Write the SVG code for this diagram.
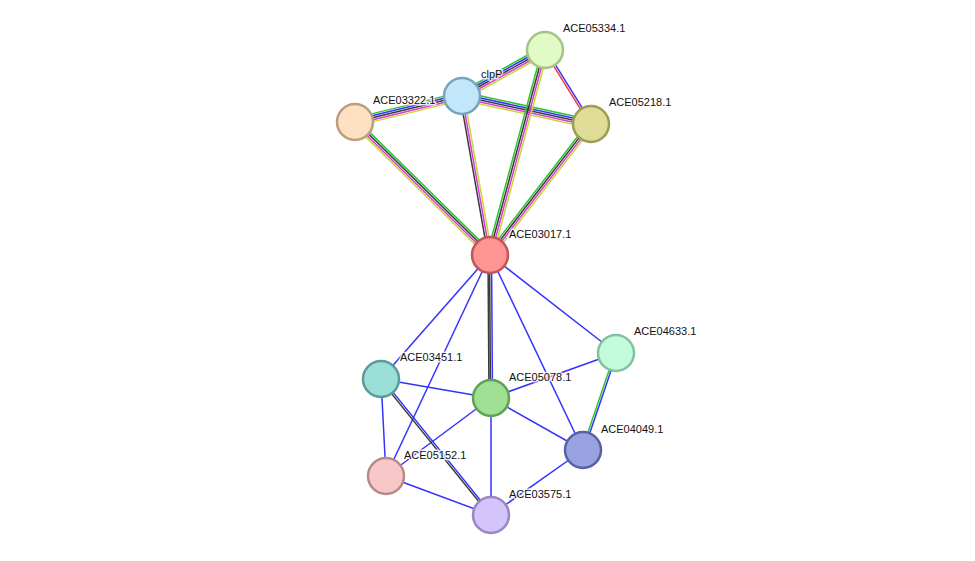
<svg xmlns="http://www.w3.org/2000/svg" width="975" height="561" viewBox="0 0 975 561">
<style>
.e{stroke-width:1.5;fill:none}
.g{stroke:#2fc52f}.b{stroke:#3333ff}.k{stroke:#3a3a3a}.m{stroke:#d63cd6}.y{stroke:#c5d63a}.r{stroke:#ff3333}
.n{stroke-width:2.5}
.t{font-family:"Liberation Sans",Arial,sans-serif;font-size:11px;fill:#111;stroke:#fff;stroke-width:3;stroke-opacity:0.8;paint-order:stroke;stroke-linejoin:round}
</style>
<rect width="975" height="561" fill="#fff"/>
<g id="connectors" class="e">
<!-- clpP - ACE05334 -->
<line class="g" x1="460.06" y1="92.5" x2="543.06" y2="46.5"/>
<line class="b" x1="461.03" y1="94.25" x2="544.03" y2="48.25"/>
<line class="k" x1="462" y1="96" x2="545" y2="50"/>
<line class="m" x1="462.97" y1="97.75" x2="545.97" y2="51.75"/>
<line class="y" x1="463.94" y1="99.5" x2="546.94" y2="53.5"/>
<!-- clpP - ACE03322 -->
<line class="g" x1="461.06" y1="92.11" x2="354.06" y2="118.11"/>
<line class="b" x1="461.53" y1="94.06" x2="354.53" y2="120.06"/>
<line class="k" x1="462" y1="96" x2="355" y2="122"/>
<line class="m" x1="462.47" y1="97.94" x2="355.47" y2="123.94"/>
<line class="y" x1="462.94" y1="99.89" x2="355.94" y2="125.89"/>
<!-- clpP - ACE05218 -->
<line class="g" x1="462.85" y1="92.09" x2="591.85" y2="120.09"/>
<line class="b" x1="462.42" y1="94.05" x2="591.42" y2="122.05"/>
<line class="k" x1="462" y1="96" x2="591" y2="124"/>
<line class="m" x1="461.58" y1="97.95" x2="590.58" y2="125.95"/>
<line class="y" x1="461.15" y1="99.91" x2="590.15" y2="127.91"/>
<!-- clpP - ACE03017 -->
<line class="k" x1="460.03" y1="96.35" x2="488.03" y2="255.35"/>
<line class="m" x1="462" y1="96" x2="490" y2="255"/>
<line class="y" x1="463.97" y1="95.65" x2="491.97" y2="254.65"/>
<!-- ACE05334 - ACE05218 -->
<line class="r" x1="544.15" y1="50.53" x2="590.15" y2="124.53"/>
<line class="b" x1="545.85" y1="49.47" x2="591.85" y2="123.47"/>
<!-- ACE05334 - ACE03017 -->
<line class="g" x1="542.1" y1="49.22" x2="487.1" y2="254.22"/>
<line class="k" x1="544.03" y1="49.74" x2="489.03" y2="254.74"/>
<line class="m" x1="545.97" y1="50.26" x2="490.97" y2="255.26"/>
<line class="y" x1="547.9" y1="50.78" x2="492.9" y2="255.78"/>
<!-- ACE05218 - ACE03017 -->
<line class="g" x1="588.62" y1="122.17" x2="487.62" y2="253.17"/>
<line class="k" x1="590.21" y1="123.39" x2="489.21" y2="254.39"/>
<line class="m" x1="591.79" y1="124.61" x2="490.79" y2="255.61"/>
<line class="y" x1="593.38" y1="125.83" x2="492.38" y2="256.83"/>
<!-- ACE03322 - ACE03017 -->
<line class="y" x1="352.9" y1="124.14" x2="487.9" y2="257.14"/>
<line class="m" x1="354.3" y1="122.71" x2="489.3" y2="255.71"/>
<line class="k" x1="355.7" y1="121.29" x2="490.7" y2="254.29"/>
<line class="g" x1="357.1" y1="119.86" x2="492.1" y2="252.86"/>
<!-- ACE03017 - ACE05078 -->
<line class="k" x1="488" y1="255" x2="489" y2="398"/>
<line class="k" x1="489.5" y1="255" x2="490.5" y2="398"/>
<line class="b" x1="491.5" y1="255" x2="492.5" y2="398"/>
<!-- single blue edges -->
<line class="b" x1="490" y1="255" x2="381" y2="379"/>
<line class="b" x1="490" y1="255" x2="386" y2="476"/>
<line class="b" x1="490" y1="255" x2="583" y2="450"/>
<line class="b" x1="490" y1="255" x2="616" y2="353"/>
<line class="b" x1="381" y1="379" x2="491" y2="398"/>
<line class="b" x1="381" y1="379" x2="386" y2="476"/>
<line class="b" x1="491" y1="398" x2="386" y2="476"/>
<line class="b" x1="491" y1="398" x2="491" y2="515"/>
<line class="b" x1="491" y1="398" x2="583" y2="450"/>
<line class="b" x1="491" y1="398" x2="616" y2="353"/>
<line class="b" x1="583" y1="450" x2="491" y2="515"/>
<line class="b" x1="386" y1="476" x2="491" y2="515"/>
<!-- ACE03451 - ACE03575 -->
<line class="k" x1="380.22" y1="379.63" x2="490.22" y2="515.63"/>
<line class="b" x1="381.78" y1="378.37" x2="491.78" y2="514.37"/>
<!-- ACE04633 - ACE04049 -->
<line class="g" x1="615.05" y1="352.68" x2="582.05" y2="449.68"/>
<line class="b" x1="616.95" y1="353.32" x2="583.95" y2="450.32"/>
</g>
<g id="ACE05334.1"><circle class="n" cx="545" cy="50" r="18" fill="#e0fcc4" stroke="#a6c486"/><text class="t" x="563" y="32">ACE05334.1</text></g>
<g id="clpP"><circle class="n" cx="462" cy="96" r="18" fill="#c2e6fa" stroke="#7aa4bc"/><text class="t" x="481" y="78">clpP</text></g>
<g id="ACE03322.1"><circle class="n" cx="355" cy="122" r="18" fill="#fee0c2" stroke="#bc9e7e"/><text class="t" x="373" y="104">ACE03322.1</text></g>
<g id="ACE05218.1"><circle class="n" cx="591" cy="124" r="18" fill="#dedc96" stroke="#9e9c54"/><text class="t" x="609" y="106">ACE05218.1</text></g>
<g id="ACE03017.1"><circle class="n" cx="490" cy="255" r="18" fill="#ff9494" stroke="#c05656"/><text class="t" x="509" y="238">ACE03017.1</text></g>
<g id="ACE04633.1"><circle class="n" cx="616" cy="353" r="18" fill="#c2fcdc" stroke="#82c2a0"/><text class="t" x="634" y="335">ACE04633.1</text></g>
<g id="ACE03451.1"><circle class="n" cx="381" cy="379" r="18" fill="#9ae0d8" stroke="#5c9c96"/><text class="t" x="400" y="361">ACE03451.1</text></g>
<g id="ACE05078.1"><circle class="n" cx="491" cy="398" r="18" fill="#a0e094" stroke="#60a055"/><text class="t" x="509" y="381">ACE05078.1</text></g>
<g id="ACE04049.1"><circle class="n" cx="583" cy="450" r="18" fill="#98a2e0" stroke="#5862a0"/><text class="t" x="601" y="433">ACE04049.1</text></g>
<g id="ACE05152.1"><circle class="n" cx="386" cy="476" r="18" fill="#f8c8c8" stroke="#b88a8a"/><text class="t" x="404" y="459">ACE05152.1</text></g>
<g id="ACE03575.1"><circle class="n" cx="491" cy="515" r="18" fill="#d4c4fc" stroke="#9a88c4"/><text class="t" x="509" y="498">ACE03575.1</text></g>
</svg>
